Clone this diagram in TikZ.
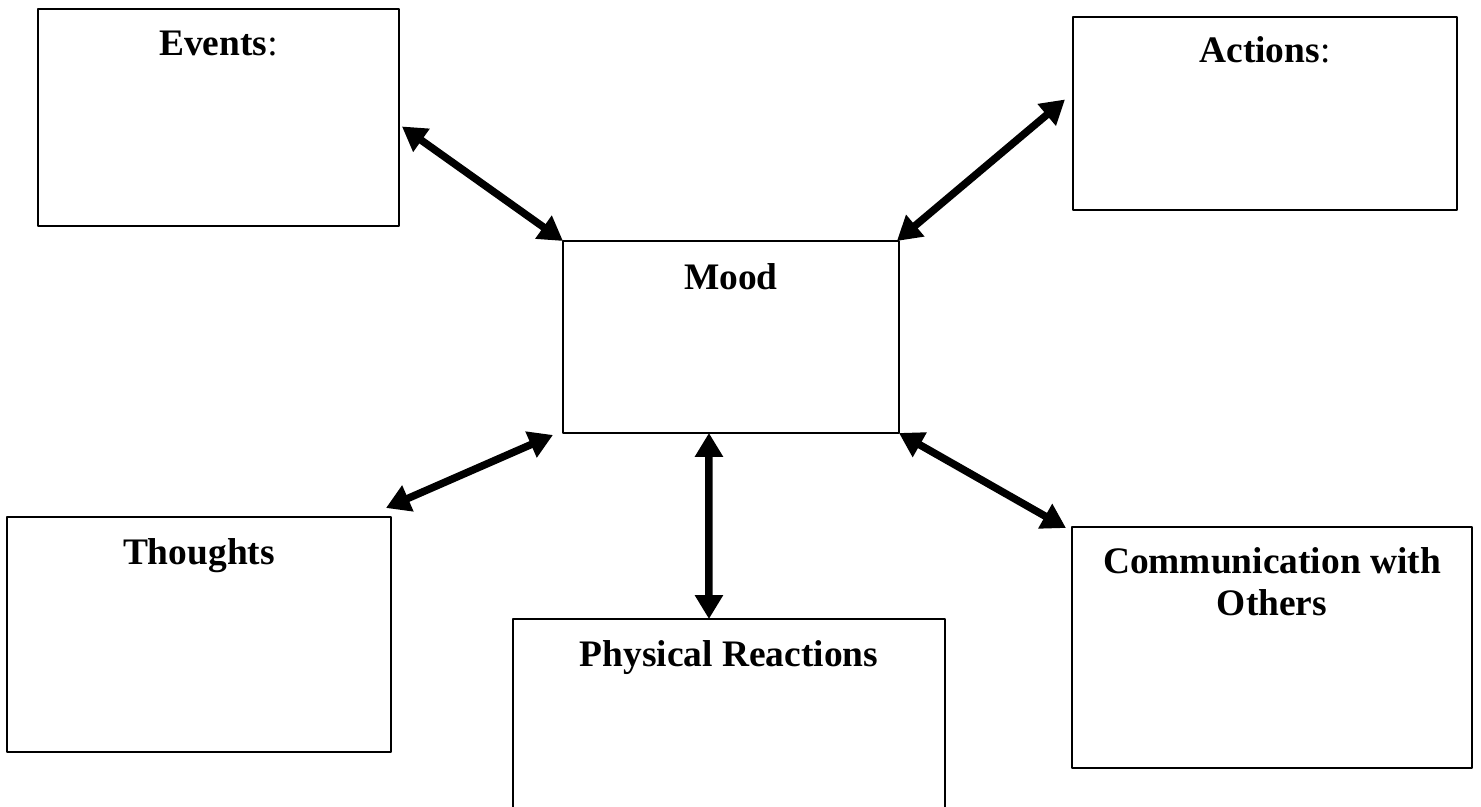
\documentclass[tikz,border=0pt]{standalone}
\usepackage{fontspec}
\setmainfont{Liberation Serif}
\usetikzlibrary{arrows.meta}
\tikzset{
  box/.style={draw, line width=0.04cm, rectangle, anchor=north west, inner sep=0pt, outer sep=0pt},
  title/.style={anchor=base, inner sep=0pt, align=center, font=\bfseries\fontsize{21.3}{23.9}\selectfont},
  link/.style={line width=0.15cm, {Triangle[length=0.48cm,width=0.54cm]}-{Triangle[length=0.48cm,width=0.54cm]}}
}

\begin{document}
\begin{tikzpicture}[line cap=round,line join=round,x=0.02cm,y=-0.02cm]
	\useasboundingbox (0,0) rectangle (1481,807);
	\clip (0,0) rectangle (1481,807);
	% boxes
	\node [box, minimum width=7.22cm, minimum height=4.34cm] (events) at (38,9) {};
	\node [box, minimum width=7.68cm, minimum height=3.86cm] (actions) at (1073,17) {};
	\node [box, minimum width=6.72cm, minimum height=3.84cm] (mood) at (563,241) {};
	\node [box, minimum width=7.68cm, minimum height=4.70cm] (thoughts) at (7,517) {};
	\node [box, minimum width=8.64cm, minimum height=3.86cm] (physical) at (513,619) {};
	\node [box, minimum width=8.00cm, minimum height=4.82cm] (comm) at (1072,527) {};
	% titles
	\node [title] (eventstxt) at ([shift={(0,47)}]events.north) {Events\normalfont:};
	\node [title] (actionstxt) at ([shift={(0,46)}]actions.north) {Actions\normalfont:};
	\node [title] (moodtxt) at ([shift={(0,49)}]mood.north) {Mood};
	\node [title] (thoughtstxt) at ([shift={(0,47)}]thoughts.north) {Thoughts};
	\node [title] (physicaltxt) at ([shift={(0,47)}]physical.north) {Physical Reactions};
	\node [title] (commtxt) at ([shift={(0,88)}]comm.north) {Communication with\\Others};
	% arrows
	\draw [link] ([shift={(3,9)}]events.east) -- (mood.north west);
	\draw [link] ([shift={(-8,-14)}]actions.west) -- ([shift={(-2,0)}]mood.north east);
	\draw [link] ([shift={(-5,-9)}]thoughts.north east) -- ([shift={(-10,2)}]mood.south west);
	\draw [link] ([shift={(-22,0)}]mood.south) -- ([shift={(-20,0)}]physical.north);
	\draw [link] (mood.south east) -- ([shift={(-6,1)}]comm.north west);
\end{tikzpicture}
\end{document}
